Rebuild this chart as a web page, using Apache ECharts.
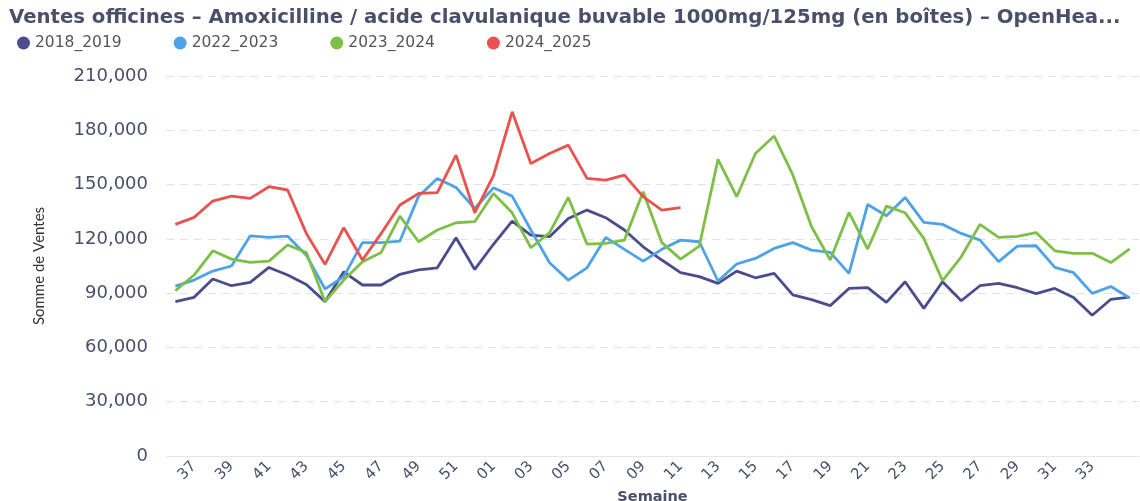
<!DOCTYPE html>
<html>
<head>
<meta charset="utf-8">
<script src="https://cdn.jsdelivr.net/npm/echarts@6/dist/echarts.min.js"></script>
<style>
  html, body { margin: 0; padding: 0; background: #fff; }
  #chart { width: 1140px; height: 501px; }
</style>
</head>
<body>
<div id="chart"></div>
<script>
// semaines 36 -> 52 puis 01 -> 35
const weeks = [
  '36', '37', '38', '39', '40', '41', '42', '43', '44', '45', '46', '47', '48', '49', '50', '51', '52',
  '01', '02', '03', '04', '05', '06', '07', '08', '09', '10', '11', '12', '13', '14', '15', '16', '17',
  '18', '19', '20', '21', '22', '23', '24', '25', '26', '27', '28', '29', '30', '31', '32', '33', '34', '35'
]

const sales2018 = [
  85300, 87700, 97800, 94100, 95900, 104200, 100000, 94800, 85300, 101800,
  94500, 94500, 100400, 102800, 104000, 120600, 103100, 117000, 129800, 122100,
  121200, 131300, 135900, 131700, 124900, 115600, 108300, 101300, 99100, 95400,
  102200, 98500, 100900, 89000, 86400, 83100, 92600, 93000, 84900, 96300,
  81600, 96300, 85800, 94100, 95400, 93000, 89700, 92600, 87600, 77800,
  86600, 87800
]

const sales2022 = [
  93900, 97200, 102200, 105000, 121700, 120800, 121500, 111000, 92300, 99100,
  117900, 117900, 118800, 143600, 153400, 148400, 136800, 148200, 143600, 124900,
  106800, 97200, 104000, 120800, 114200, 107700, 114200, 119300, 118400, 96700,
  106100, 109200, 114700, 117900, 113800, 112500, 100900, 139000, 132800, 142900,
  129100, 128000, 123000, 119300, 107400, 116000, 116200, 104200, 101300, 89900,
  93700, 87300
]

const sales2023 = [
  91300, 100000, 113400, 108800, 107000, 107700, 116600, 112500, 85300, 97200,
  107400, 112500, 132600, 118400, 124900, 128900, 129500, 145100, 134400, 115100,
  123400, 142900, 117100, 117500, 119300, 146000, 117900, 108800, 116000, 163900,
  143300, 167200, 176800, 155300, 126700, 108300, 134600, 114400, 138100, 134400,
  120300, 96900, 110100, 128000, 120800, 121400, 123500, 113400, 112000, 112000,
  106900, 114400
]

const sales2024 = [
  128000, 131900, 140900, 143600, 142400, 148800, 147000, 123000, 105900, 126200,
  108300, 123000, 138700, 145100, 145500, 166300, 134400, 155000, 190200, 161700,
  167200, 171800, 153400, 152500, 155200, 143300, 135900, 137200
]

const seriesNames = ['2018_2019', '2022_2023', '2023_2024', '2024_2025']
const seriesColors = ['#4b4c8c', '#4ea3e8', '#7dbf47', '#e9524f']

const textColor = '#4a4f6a'
const wideFont = '"DejaVu Sans", Lato, sans-serif'

const chart = echarts.init(document.getElementById('chart'))

function makeLine(name, data, color) {
  return {
    name,
    type: 'line',
    data,
    showSymbol: false,
    symbol: 'none',
    lineStyle: { width: 2.8, color },
    itemStyle: { color },
    emphasis: { disabled: true }
  }
}

chart.setOption({
  animation: false,
  textStyle: { fontFamily: wideFont },
  title: {
    // titre coupé tel qu'affiché
    text: 'Ventes officines – Amoxicilline / acide clavulanique buvable 1000mg/125mg (en boîtes) – OpenHea...',
    left: 4,
    top: 3,
    textStyle: {
      fontFamily: wideFont,
      fontSize: 19.7,
      fontWeight: 'bold',
      color: textColor
    }
  },
  legend: {
    left: 12,
    top: 30,
    icon: 'circle',
    itemWidth: 13,
    itemHeight: 13,
    itemGap: 52,
    textStyle: { fontFamily: wideFont, fontSize: 15.5, color: '#555' },
    data: seriesNames
  },
  grid: {
    left: 166,
    right: 1,
    top: 76,
    bottom: 45,
    outerBoundsMode: 'none'
  },
  xAxis: {
    type: 'category',
    data: weeks,
    boundaryGap: true,
    name: 'Semaine',
    nameLocation: 'middle',
    nameGap: 28,
    nameTextStyle: { fontFamily: wideFont, fontSize: 14.5, fontWeight: 'bold', color: textColor },
    axisLine: { lineStyle: { color: '#e6e6e6', width: 1 } },
    axisTick: { show: false },
    axisLabel: {
      rotate: 45,
      interval: (index) => index % 2 === 1 && index < weeks.length - 1,
      color: textColor,
      fontFamily: wideFont,
      fontSize: 15,
      margin: 8
    }
  },
  yAxis: {
    type: 'value',
    min: 0,
    max: 210000,
    interval: 30000,
    name: 'Somme de Ventes',
    nameLocation: 'middle',
    nameGap: 119,
    nameTextStyle: { fontFamily: 'Lato, sans-serif', fontSize: 15, color: '#333' },
    axisLine: { show: false },
    axisTick: { show: false },
    axisLabel: {
      color: textColor,
      fontFamily: wideFont,
      fontSize: 18,
      margin: 18,
      formatter: (v) => v.toLocaleString('en-US')
    },
    splitLine: { lineStyle: { type: [8, 6], color: '#e2e2e2' } }
  },
  series: [
    makeLine(seriesNames[0], sales2018, seriesColors[0]),
    makeLine(seriesNames[1], sales2022, seriesColors[1]),
    makeLine(seriesNames[2], sales2023, seriesColors[2]),
    makeLine(seriesNames[3], sales2024, seriesColors[3])
  ]
})
</script>
</body>
</html>
